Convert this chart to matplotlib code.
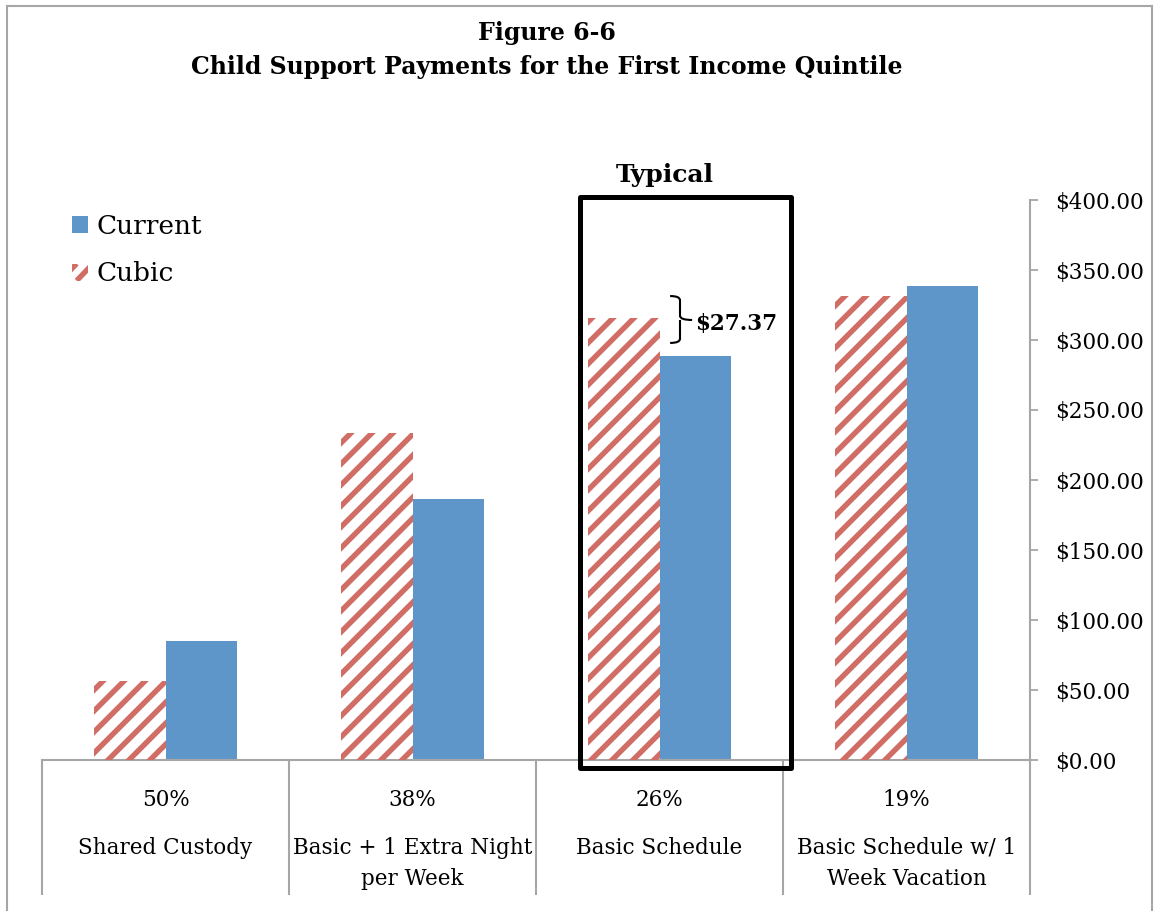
import numpy as np
import matplotlib
matplotlib.use("Agg")
import matplotlib.pyplot as plt
from matplotlib.patches import Patch, Rectangle, PathPatch
from matplotlib.path import Path
from matplotlib.lines import Line2D
from matplotlib.collections import LineCollection
from matplotlib.transforms import IdentityTransform
from matplotlib.legend_handler import HandlerBase

# Data
shares = ["50%", "38%", "26%", "19%"]
schedules = ["Shared Custody", "Basic + 1 Extra Night\nper Week",
             "Basic Schedule", "Basic Schedule w/ 1\nWeek Vacation"]
current = [85.0, 186.5, 288.33, 338.5]
cubic = [56.5, 233.5, 315.70, 331.5]
y_ticks = [0, 50, 100, 150, 200, 250, 300, 350, 400]
typical_idx = 2

BLUE = "#5F96C9"
RED = "#D06E66"
GRAY = "#A6A6A6"
STRIPE_LW = 3.9

plt.rcParams['font.family'] = ['DejaVu Serif']


class StripeHandler(HandlerBase):
    # legend key: white square with a piece of the diagonal stripe pattern
    def create_artists(self, legend, orig_handle, xdescent, ydescent, width, height,
                       fontsize, trans):
        x0, y0 = -xdescent, -ydescent
        sq = Rectangle((x0, y0), width, height, facecolor="white", edgecolor="none",
                       transform=trans)
        band = Line2D([x0 + 0.3 * width, x0 + 1.3 * width], [y0, y0 + height],
                      color=RED, lw=STRIPE_LW, solid_capstyle="butt", transform=trans)
        corner = Line2D([x0 - 0.7 * width, x0 + 0.3 * width], [y0, y0 + height],
                        color=RED, lw=STRIPE_LW, solid_capstyle="butt", transform=trans)
        band.set_clip_path(sq)
        corner.set_clip_path(sq)
        return [sq, band, corner]


W, H = 1154, 911
fig = plt.figure(figsize=(W / 100, H / 100), dpi=100)
ax = fig.add_axes([42 / W, 151 / H, 988 / W, 560 / H])

x = np.arange(len(shares)) + 0.5
w = 0.2875
cubic_bars = ax.bar(x - w / 2, cubic, w, facecolor="white", linewidth=0)
ax.bar(x + w / 2, current, w, color=BLUE, linewidth=0)

# diagonal stripe fill for the Cubic bars (pixel spaced, clipped to each bar)
step = 21
offsets = np.arange(-W, H, step)
segs = [[(0, c), (W, W + c)] for c in offsets]
for bar in cubic_bars:
    lc = LineCollection(segs, colors=RED, linewidths=STRIPE_LW, transform=IdentityTransform(),
                        capstyle="butt", zorder=2.5)
    ax.add_collection(lc, autolim=False)
    lc.set_clip_path(bar)

ax.set_xlim(0, len(shares))
ax.set_ylim(0, 400)

# axes styling
for side in ["top", "left", "bottom"]:
    ax.spines[side].set_visible(False)
ax.spines["right"].set_color(GRAY)
ax.spines["right"].set_linewidth(1.5)
ax.yaxis.tick_right()
ax.set_yticks(y_ticks)
ax.set_yticklabels([f"${v:,.2f}" for v in y_ticks])
ax.tick_params(axis="y", direction="out", length=6, width=1.3, color=GRAY,
               pad=12, labelsize=15.5)
ax.set_xticks([])

# baseline and category table lines
ax.plot([0, 1], [0, 0], transform=ax.transAxes, color=GRAY, lw=1.5, clip_on=False)
tbl_bottom = -(895 - 760) / 560
ax.vlines(np.arange(len(shares) + 1), tbl_bottom, 0, transform=ax.get_xaxis_transform(),
          color=GRAY, lw=1.5, clip_on=False)

xt = ax.get_xaxis_transform()
for i in range(len(shares)):
    ax.text(x[i], -(800 - 760) / 560, shares[i], transform=xt, ha="center", va="center",
            fontsize=15.5)
    ax.text(x[i], -(837 - 760) / 560, schedules[i], transform=xt, ha="center", va="top",
            fontsize=15.5, linespacing=1.55)

# "Typical" highlight box
box = Rectangle((typical_idx + 0.178, -5.7), 0.854, 407.8, fill=False, edgecolor="black",
                linewidth=3.6, joinstyle="round", clip_on=False, zorder=5)
ax.add_patch(box)
ax.text(typical_idx + 0.522, 418, "Typical", ha="center", va="center", fontsize=18,
        fontweight="bold")

# bracket with the difference
diff = cubic[typical_idx] - current[typical_idx]
x0, xm, x1 = typical_idx + 0.543, typical_idx + 0.583, typical_idx + 0.632
yt, yb, ymid = 331.4, 297.9, 314.3
r = 3
verts = [(x0, yt), (xm, yt), (xm, yt - r), (xm, ymid + r), (xm, ymid), (x1, ymid),
         (xm, ymid), (xm, ymid - r), (xm, yb + r), (xm, yb), (x0, yb)]
codes = [Path.MOVETO, Path.CURVE3, Path.CURVE3, Path.LINETO, Path.CURVE3, Path.CURVE3,
         Path.MOVETO, Path.LINETO, Path.LINETO, Path.CURVE3, Path.CURVE3]
ax.add_patch(PathPatch(Path(verts, codes), fill=False, edgecolor="black", lw=1.5,
                       clip_on=False))
ax.text(x1 + 0.012, ymid - 3, f"${diff:.2f}", ha="left", va="center", fontsize=15.5,
        fontweight="bold")

# legend
handles = [Patch(facecolor=BLUE, linewidth=0), Patch(facecolor=RED)]
fig.legend(handles, ["Current", "Cubic"], loc="upper left",
           handler_map={handles[1]: StripeHandler()},
           bbox_to_anchor=(48 / W, 1 - 190 / H), frameon=False, fontsize=19,
           handlelength=0.62, handleheight=0.62, handletextpad=0.32, labelspacing=0.86)

# title
fig.text(547 / W, 1 - 33 / H, "Figure 6-6", ha="center", va="center", fontsize=17,
         fontweight="bold")
fig.text(547 / W, 1 - 67 / H, "Child Support Payments for the First Income Quintile",
         ha="center", va="center", fontsize=17, fontweight="bold")

# outer frame
fig.add_artist(Line2D([8 / W, 1152 / W], [1 - 6 / H, 1 - 6 / H], color=GRAY, lw=1.5))
fig.add_artist(Line2D([7 / W, 7 / W], [0, 1 - 6 / H], color=GRAY, lw=1.5))
fig.add_artist(Line2D([1152 / W, 1152 / W], [0, 1 - 6 / H], color=GRAY, lw=1.5))

fig.savefig("out.png", dpi=100)
